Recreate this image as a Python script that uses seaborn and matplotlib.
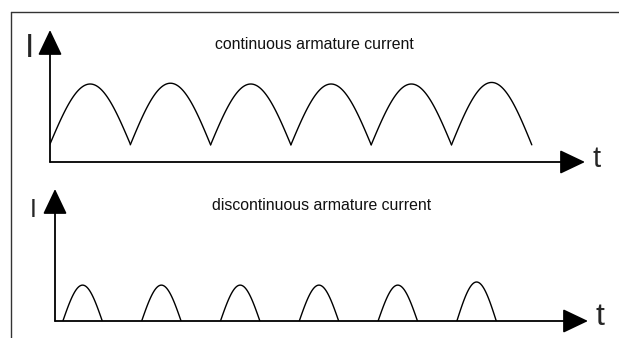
import numpy as np
import pandas as pd
import seaborn as sns
import matplotlib.pyplot as plt
from matplotlib.lines import Line2D


# =========================
# data
# =========================

# continuous current: one half-sine lobe per period (time units, current units)
cont_start = [0, 1, 2, 3, 4, 5]
cont_end = [1, 2, 3, 4, 5, 6]
cont_low = [0.23, 0.22, 0.22, 0.22, 0.22, 0.22]
cont_peak = [1.0, 1.01, 1.0, 1.0, 1.0, 1.02]

# discontinuous current: short pulses, zero in between
disc_start = [0.1, 1.1, 2.1, 3.1, 4.1, 5.1]
disc_end = [0.6, 1.6, 2.6, 3.6, 4.6, 5.6]
disc_peak = [0.46, 0.46, 0.46, 0.46, 0.46, 0.5]

titles = ["continuous armature current", "discontinuous armature current"]
y_label = "I"
x_label = "t"


def lobes(starts, ends, lows, peaks, n=60):
    rows = []
    s = np.linspace(0, 1, n)
    for k, (a, b, lo, pk) in enumerate(zip(starts, ends, lows, peaks)):
        t = a + (b - a) * s
        i = lo + (pk - lo) * np.sin(np.pi * s)
        rows.append(pd.DataFrame({"t": t, "I": i, "lobe": k}))
    return pd.concat(rows, ignore_index=True)


df_cont = lobes(cont_start, cont_end, cont_low, cont_peak)
df_disc = lobes(disc_start, disc_end, [0] * len(disc_start), disc_peak)


# =========================
# figure
# =========================

sns.set_theme(style="white")
plt.rcParams['font.family'] = ['Liberation Sans', 'DejaVu Sans']

W, H = 619, 338
fig = plt.figure(figsize=(W / 100, H / 100), dpi=100)


def px_axes(x0, y0, x1, y1):
    # axes placed by pixel box (y measured from top)
    return fig.add_axes([x0 / W, 1 - y1 / H, (x1 - x0) / W, (y1 - y0) / H])


arrow = dict(arrowstyle="-|>,head_length=1.05,head_width=0.5",
             mutation_scale=15, lw=1.3, color="black",
             shrinkA=0, shrinkB=0)

panels = [
    (px_axes(50, 30, 585, 162), df_cont, 535 / 80.3),
    (px_axes(55, 189, 588, 321), df_disc, 533 / 78.8),
]

for ax, df, xmax in panels:
    ymax = 132 / 78
    sns.lineplot(data=df, x="t", y="I", units="lobe", estimator=None,
                 color="black", lw=1.0, ax=ax, sort=False)
    ax.set_xlim(0, xmax)
    ax.set_ylim(0, ymax)
    ax.annotate("", xy=(xmax, 0), xytext=(0, 0), arrowprops=arrow,
                annotation_clip=False)
    ax.annotate("", xy=(0, ymax), xytext=(0, 0), arrowprops=arrow,
                annotation_clip=False)
    ax.axis("off")
    ax.patch.set_alpha(0)

# outer frame (top and left edges)
fig.add_artist(Line2D([11 / W, 1], [1 - 12 / H, 1 - 12 / H], color="#333333", lw=1.0))
fig.add_artist(Line2D([11 / W, 11 / W], [0, 1 - 12 / H], color="#333333", lw=1.0))

# texts
fig.text(314 / W, 1 - 49 / H, titles[0], ha="center", va="baseline", fontsize=11.4, color="#111111")
fig.text(322 / W, 1 - 210 / H, titles[1], ha="center", va="baseline", fontsize=11.4, color="#111111")
fig.text(29 / W, 1 - 57 / H, y_label, ha="center", va="baseline", fontsize=24)
fig.text(33 / W, 1 - 217 / H, y_label, ha="center", va="baseline", fontsize=18)
fig.text(597 / W, 1 - 167 / H, x_label, ha="center", va="baseline", fontsize=21)
fig.text(600 / W, 1 - 325 / H, x_label, ha="center", va="baseline", fontsize=23)

fig.savefig("out.png", dpi=100)
